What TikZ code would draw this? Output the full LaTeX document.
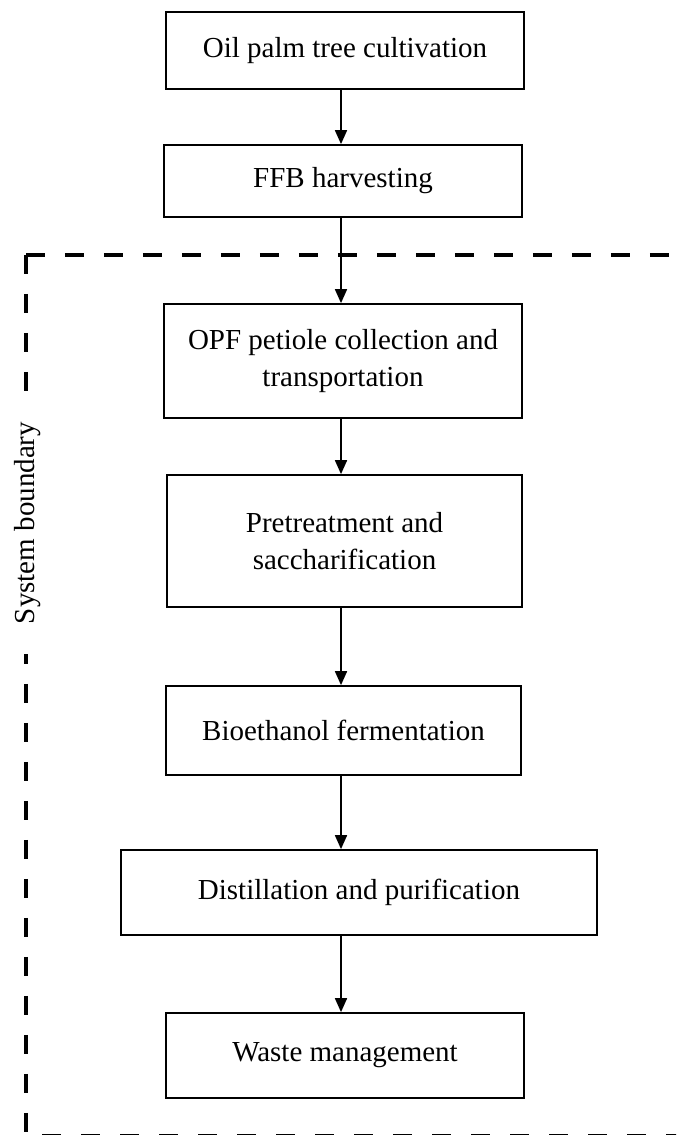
\documentclass[tikz,border=0pt]{standalone}
\usepackage{fontspec}
\setmainfont{Liberation Serif}
\usetikzlibrary{arrows.meta}
\tikzset{
  stage/.style={draw, line width=1pt, align=center, inner sep=0pt, font=\fontsize{16.5pt}{21pt}\selectfont},
  flow/.style={line width=1pt, -{Triangle[length=0.28cm,width=0.24cm]}},
  bound/.style={line width=0.08cm, dash pattern=on 0.38cm off 0.4cm}
}
\begin{document}
\begin{tikzpicture}[x=0.02cm,y=-0.02cm]
  %%%%% START %%%%%
  \useasboundingbox (0,0) rectangle (676,1135);
  \clip (0,0) rectangle (676,1135);

  % system boundary
  \coordinate (corner) at (26,255);
  \draw[bound] (corner) -- (679,255) -- (679,1135.5);
  \draw[bound] (corner) -- (26,1135.5) -- (679,1135.5);
  \node[rotate=90, fill=white, inner xsep=0.6cm, inner ysep=2pt, font=\fontsize{16.5pt}{21pt}\selectfont] (boundary) at (28,523) {System boundary};

  % stages
  \node[stage, minimum width=7.16cm, minimum height=1.54cm] (cultivation) at (345,50.5) {Oil palm tree cultivation};
  \node[stage, minimum width=7.16cm, minimum height=1.44cm] (harvesting) at (343,181) {FFB harvesting};
  \node[stage, minimum width=7.16cm, minimum height=2.28cm] (collection) at (343,361) {OPF petiole collection and\\transportation};
  \node[stage, minimum width=7.1cm, minimum height=2.64cm] (pretreatment) at (344.5,541) {Pretreatment and\\saccharification};
  \node[stage, minimum width=7.1cm, minimum height=1.78cm] (fermentation) at (343.5,730.5) {Bioethanol fermentation};
  \node[stage, minimum width=9.52cm, minimum height=1.7cm] (distillation) at (359,892.5) {Distillation and purification};
  \node[stage, minimum width=7.16cm, minimum height=1.7cm] (waste) at (345,1055.5) {Waste management};

  % arrows
  \coordinate (spine) at (341,0);
  \draw[flow] (cultivation.south -| spine) -- (harvesting.north -| spine);
  \draw[flow] (harvesting.south -| spine) -- (collection.north -| spine);
  \draw[flow] (collection.south -| spine) -- (pretreatment.north -| spine);
  \draw[flow] (pretreatment.south -| spine) -- (fermentation.north -| spine);
  \draw[flow] (fermentation.south -| spine) -- (distillation.north -| spine);
  \draw[flow] (distillation.south -| spine) -- (waste.north -| spine);
  %%%%% END %%%%%
\end{tikzpicture}
\end{document}
